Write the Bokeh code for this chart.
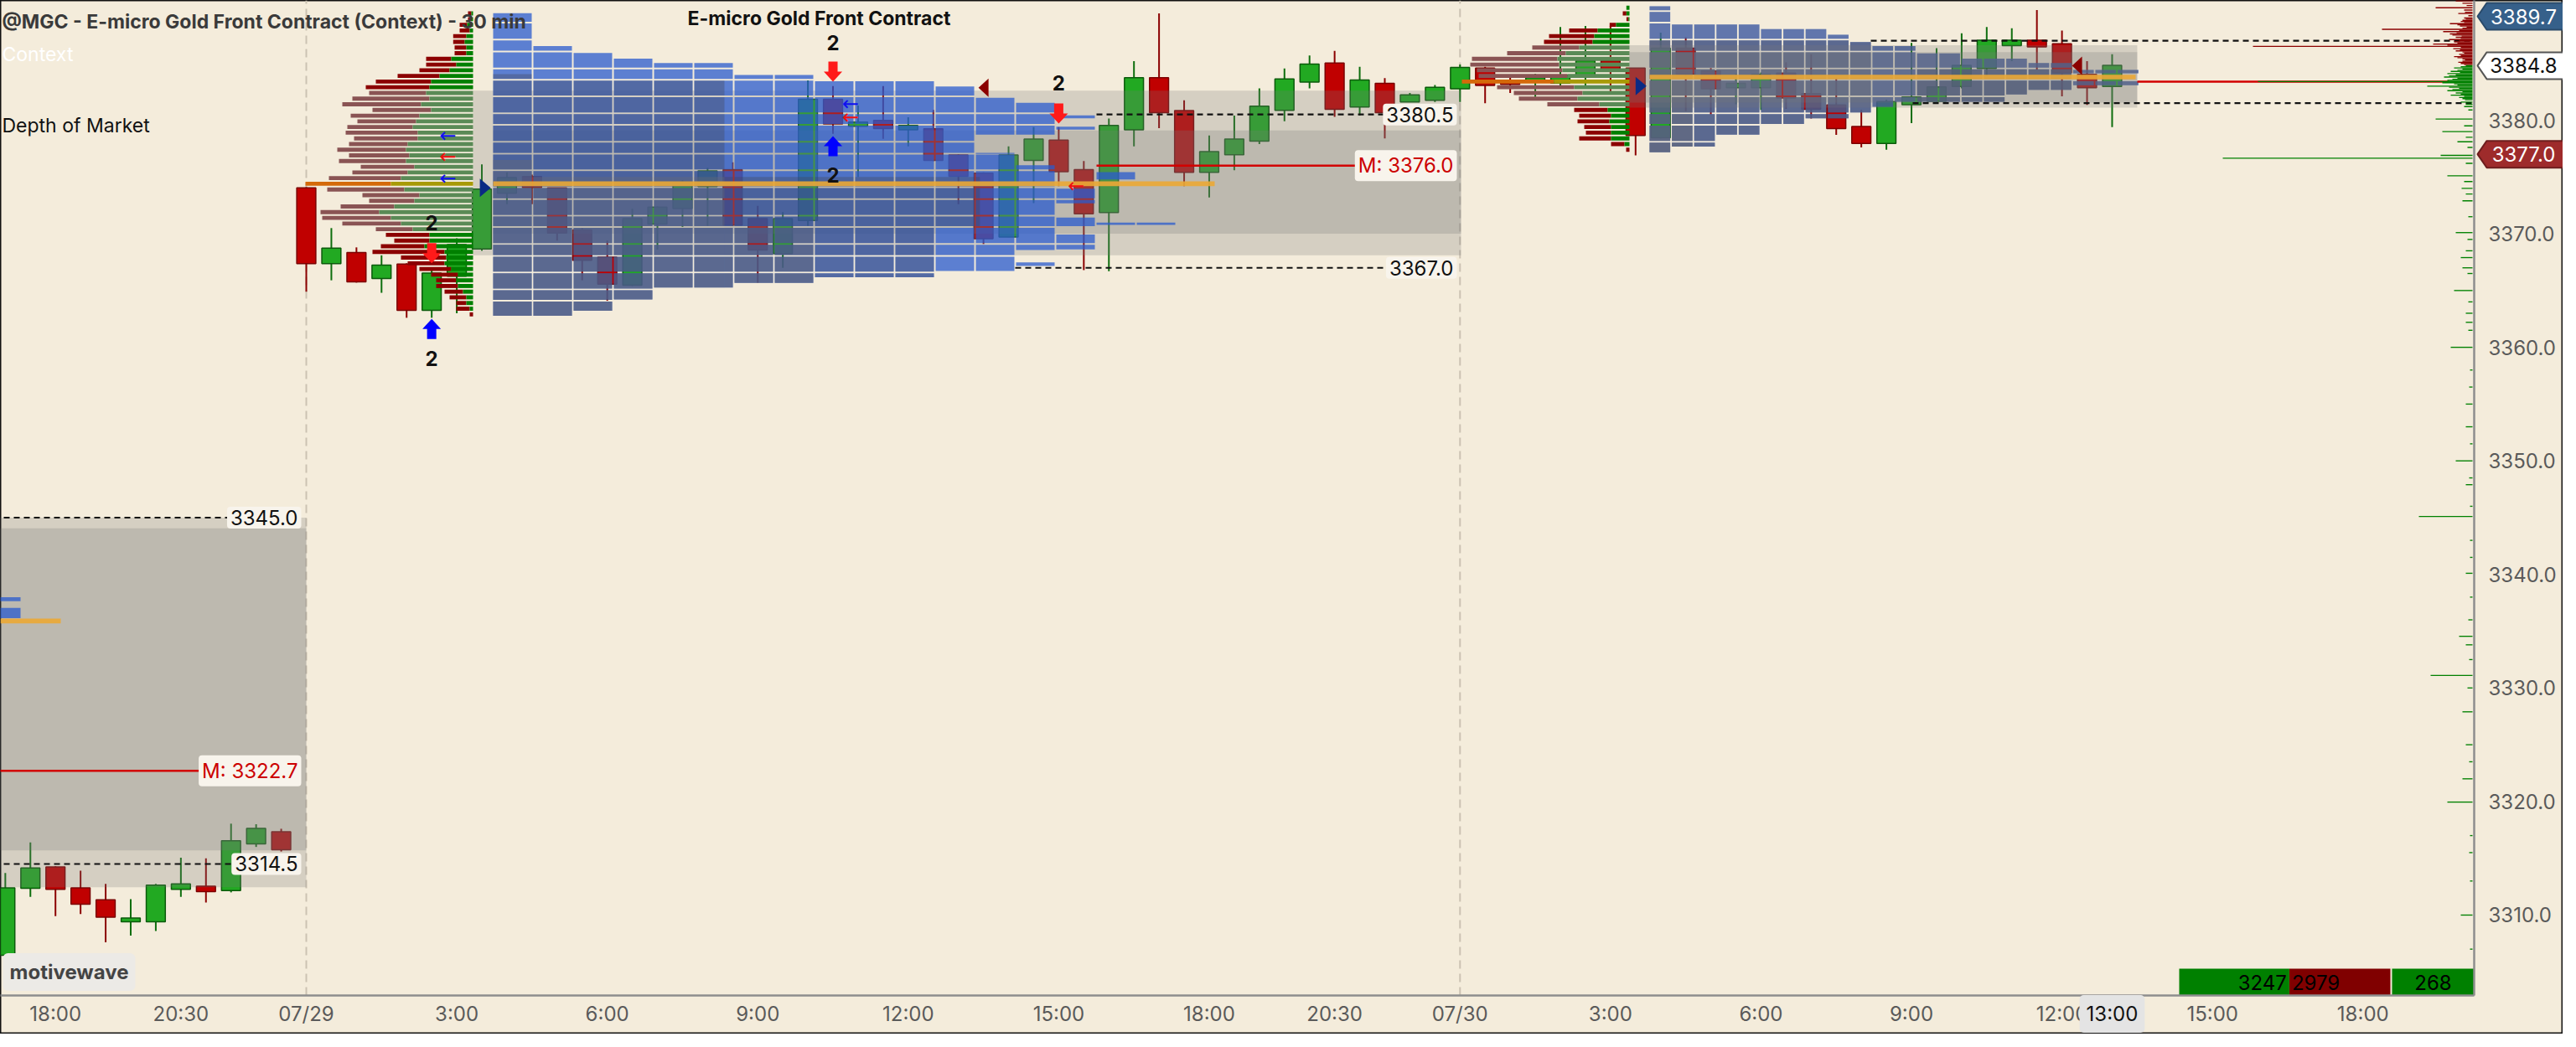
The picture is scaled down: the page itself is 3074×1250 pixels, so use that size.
from bokeh.plotting import figure
from bokeh.models import Range1d, Label
from bokeh.core.properties import value
from bokeh.embed import file_html
from bokeh.resources import INLINE

# ------------------------------------------------------------------ data
# 30-min candles, x = bar index (0 = 07/29 00:00, 46 = 07/30 00:00)
BAR_IDX = list(range(-12, 73))
OPEN = [3306.5, 3312.4, 3314.2, 3312.35, 3311.3, 3309.45, 3309.45, 3312.3, 3312.5, 3312.2, 3316.3, 3317.3,
        3374.0, 3367.4, 3368.3, 3366.1, 3367.3, 3363.3, 3366.3, 3368.7, 3373.6, 3375.0,
        3374.0, 3370.3, 3367.9, 3365.5, 3370.9, 3372.25, 3374.2, 3375.6, 3371.3, 3368.3,
        3371.2, 3381.8, 3379.5, 3379.95, 3379.2, 3379.2, 3376.9, 3375.3, 3369.75, 3376.5,
        3378.2, 3375.6, 3371.9, 3379.2, 3383.7, 3380.8, 3375.45, 3377.0, 3378.2, 3380.9,
        3383.4, 3385.0, 3381.2, 3383.2, 3381.65, 3381.8, 3382.8, 3384.55, 3383.3, 3383.4,
        3383.3, 3384.0, 3385.2, 3384.55, 3378.5, 3386.3, 3384.3, 3382.9, 3382.9, 3384.1,
        3382.3, 3381.3, 3379.4, 3378.0, 3381.4, 3381.7, 3383.0, 3384.6, 3386.6, 3387.0,
        3386.7, 3384.0, 3383.0]
HIGH = [3313.7, 3316.4, 3314.3, 3313.9, 3312.75, 3311.4, 3312.75, 3315.05, 3315.0, 3318.05, 3318.0, 3317.6,
        3374.1, 3370.5, 3368.8, 3368.1, 3367.4, 3366.8, 3369.6, 3376.1, 3375.4, 3375.2,
        3374.0, 3370.5, 3369.4, 3372.2, 3372.4, 3374.7, 3375.8, 3376.3, 3372.45, 3371.9,
        3383.5, 3383.0, 3381.3, 3383.0, 3380.25, 3380.9, 3377.0, 3375.4, 3377.7, 3379.4,
        3379.4, 3376.4, 3380.15, 3385.2, 3389.4, 3381.75, 3378.65, 3380.4, 3382.8, 3384.55,
        3385.7, 3386.1, 3384.7, 3383.7, 3382.4, 3383.1, 3384.9, 3384.7, 3384.0, 3384.1,
        3388.2, 3388.3, 3388.3, 3384.6, 3387.7, 3387.3, 3384.6, 3384.1, 3384.2, 3385.1,
        3385.8, 3383.8, 3380.9, 3381.8, 3386.8, 3386.35, 3387.65, 3388.2, 3388.1, 3389.7,
        3387.9, 3385.2, 3385.8]
LOW = [3305.8, 3311.6, 3309.9, 3310.1, 3307.6, 3308.2, 3308.6, 3311.6, 3311.1, 3312.0, 3316.0, 3315.6,
       3364.9, 3365.9, 3365.7, 3364.8, 3362.6, 3362.6, 3363.0, 3368.5, 3372.6, 3372.6,
       3369.4, 3365.9, 3364.1, 3365.4, 3368.6, 3370.6, 3370.7, 3370.7, 3365.7, 3367.0,
       3370.7, 3378.8, 3375.0, 3378.35, 3377.7, 3376.4, 3372.6, 3369.1, 3369.7, 3372.7,
       3374.2, 3366.8, 3366.7, 3377.7, 3379.3, 3374.2, 3373.2, 3375.6, 3377.9, 3379.9,
       3382.8, 3380.3, 3380.4, 3378.4, 3381.6, 3381.6, 3381.6, 3381.5, 3382.4, 3382.05,
       3382.9, 3382.9, 3382.5, 3376.9, 3378.4, 3380.8, 3380.5, 3381.4, 3380.9, 3381.0,
       3380.15, 3378.7, 3377.6, 3377.4, 3379.75, 3381.6, 3382.8, 3383.9, 3385.2, 3384.45,
       3382.1, 3381.35, 3379.4]
CLOSE = [3312.35, 3314.1, 3312.3, 3311.0, 3309.85, 3309.7, 3312.6, 3312.7, 3312.1, 3316.5, 3317.6, 3315.8,
         3367.4, 3368.7, 3365.8, 3367.2, 3363.3, 3366.5, 3369.0, 3373.9, 3374.9, 3374.1,
         3370.1, 3367.7, 3365.6, 3371.3, 3372.3, 3374.5, 3375.5, 3370.8, 3368.6, 3371.3,
         3381.8, 3379.7, 3379.8, 3379.3, 3379.5, 3376.5, 3375.1, 3369.6, 3376.9, 3378.3,
         3375.5, 3371.8, 3379.5, 3383.7, 3380.7, 3375.45, 3377.2, 3378.3, 3381.2, 3383.6,
         3384.9, 3381.0, 3383.5, 3380.7, 3382.2, 3382.85, 3384.6, 3383.1, 3383.2, 3383.7,
         3383.9, 3385.2, 3384.4, 3378.7, 3386.3, 3384.1, 3382.8, 3383.2, 3384.0, 3382.0,
         3381.0, 3379.3, 3378.0, 3381.6, 3382.0, 3382.9, 3384.8, 3387.0, 3387.0, 3386.5,
         3384.2, 3382.9, 3384.8]

# time axis
XTICKS = [-10, -5, 0, 6, 12, 18, 24, 30, 36, 41, 46, 52, 58, 64, 70, 76, 82]
XLABELS = ["18:00", "20:30", "07/29", "3:00", "6:00", "9:00", "12:00", "15:00", "18:00",
           "20:30", "07/30", "3:00", "6:00", "9:00", "12:00", "15:00", "18:00"]
YTICKS = [3310, 3320, 3330, 3340, 3350, 3360, 3370, 3380]
SESSION_STARTS = [0, 46]
CURRENT_BAR = 72
CURRENT_LABEL = "13:00"

# TPO profile price rows (row boundaries)
ROW_EDGES = [3389.6, 3388.6, 3387.1, 3386.05, 3384.55, 3383.55, 3382.1, 3380.6, 3379.6, 3378.1,
             3377.05, 3375.6, 3374.1, 3373.05, 3371.6, 3370.6, 3369.1, 3368.05, 3366.6, 3365.1, 3364.1]
# 07/29 TPO columns: (column, top, bottom)
TPO29_COL = [0, 1, 2, 3, 4, 5, 6, 7, 8, 9, 10, 11, 12, 12, 13, 13, 13, 14, 14, 14, 14, 14, 15, 15, 16]
TPO29_TOP = [3389.5, 3386.6, 3386.0, 3385.5, 3385.1, 3385.1, 3384.05, 3384.05, 3383.5, 3383.5, 3383.5,
             3383.05, 3382.05, 3377.1, 3381.6, 3376.1, 3367.55, 3380.5, 3379.5, 3374.05, 3371.5, 3370.0,
             3375.5, 3371.05, 3371.05]
TPO29_BOT = [3362.7, 3362.7, 3363.15, 3364.15, 3365.2, 3365.2, 3365.6, 3365.6, 3366.1, 3366.1, 3366.1,
             3366.65, 3378.65, 3366.65, 3378.65, 3368.5, 3367.1, 3380.1, 3379.1, 3372.6, 3370.6, 3368.55,
             3374.7, 3370.7, 3370.7]
# 07/30 TPO columns
TPO30_COL = [0, 1, 2, 3, 4, 5, 6, 7, 8, 9, 10, 11, 12, 13, 14, 15, 16, 17, 18, 19, 19, 20, 20, 21, 21]
TPO30_TOP = [3390.1, 3388.5, 3388.5, 3388.5, 3388.5, 3388.1, 3388.1, 3388.1, 3387.6, 3386.95, 3386.6,
             3386.6, 3385.95, 3385.95, 3385.5, 3385.5, 3385.5, 3385.1, 3385.1, 3384.5, 3383.5, 3384.5,
             3383.5, 3384.5, 3383.5]
TPO30_BOT = [3377.1, 3377.6, 3377.6, 3378.65, 3378.65, 3379.6, 3379.6, 3380.1, 3380.1, 3380.6, 3381.1,
             3381.55, 3381.55, 3381.55, 3381.55, 3381.55, 3382.2, 3382.6, 3382.6, 3384.05, 3383.0, 3384.05,
             3383.0, 3384.05, 3383.0]
# 07/28 TPO remnants (top, bottom)
TPO28_TOP = [3338.0, 3337.05]
TPO28_BOT = [3337.65, 3336.15]
# shading inside the TPO (col_from, col_to, top, bottom): dark layer A, grey layer B
SHADE29_A = [(0, 1.0, 3384.05, 3383.55), (0, 5.75, 3383.55, 3375.0), (0, 12.1, 3375.0, 3370.6),
             (0, 11.0, 3370.6, 3362.6)]
SHADE29_B = [(0, 1.0, 3376.5, 3375.0), (0, 5.75, 3375.0, 3362.6), (5.75, 8.0, 3370.6, 3362.6)]
SHADE30_A = [(0, 22.0, 3387.1, 3377.0), (12.0, 19.0, 3384.55, 3381.5)]
SHADE30_B = [(0, 10.0, 3387.1, 3377.0), (0, 2.0, 3390.2, 3377.0), (2.0, 9.0, 3388.6, 3387.1)]

# session volume-by-price (0.5 pt rows, sell / buy)
VP29_TOP = 3389.4
VP29_SELL = [4, 3, 9, 12, 15.7, 13.7, 14, 14, 30, 36, 36, 50, 66, 76, 68, 92, 94, 70, 82, 70, 78, 86, 76, 70,
             82, 72, 80, 64, 66, 86, 102, 92, 68, 54, 64, 70, 82, 70, 44, 52, 42, 52, 86, 54, 44, 38, 32, 24,
             26, 22, 20, 12, 16, 4]
VP29_BUY = [2, 3, 7, 4, 8, 10, 8, 8, 26, 20, 28, 40, 50, 52, 56, 52, 62, 50, 64, 68, 72, 66, 66, 78,
            80, 76, 80, 70, 78, 86, 98, 82, 64, 70, 94, 112, 98, 86, 72, 52, 52, 58, 34, 32, 34, 26, 18, 20,
            18, 12, 8, 8, 4, 0]
VP29_VA = (14, 38)
VP29_POC = 30
VP30_TOP = 3389.9
VP30_SELL = [0, 4.3, 2.3, 7.7, 34, 54, 58, 56, 70, 102, 106, 102, 106, 110, 92, 82, 70, 62, 40, 38, 38, 32,
             30, 38, 16, 4]
VP30_BUY = [3.7, 3.7, 1.3, 16, 38, 42, 44, 60, 76, 86, 84, 80, 74, 90, 66, 56, 62, 36, 26, 22, 24, 22, 22,
            22, 6, 0]
VP30_VA = (7, 17)
VP30_POC = 13

# value areas (left, right, top, bottom)
VA_UNDER = [(-13.0, 0.0, 3345.0, 3312.45), (-13.0, 0.0, 3344.05, 3315.7),
            (6.65, 46.04, 3382.6, 3368.1), (7.45, 46.04, 3379.1, 3370.0)]
VA_OVER = [(52.75, 73.0, 3386.6, 3381.1), (52.75, 73.0, 3386.0, 3381.55)]

# key levels
POC_LEVELS = [3335.9, 3374.4, 3383.8]
MEDIANS = [3322.7, 3376.0, 3383.4]
DASHED_LEVELS = [3345.0, 3314.5, 3380.5, 3367.0, 3387.0, 3381.5]

# depth of market (price, size)
ASK_P = [3384.9, 3385.0, 3385.1, 3385.2, 3385.3, 3385.4, 3385.5, 3385.6, 3385.7, 3385.8, 3385.9, 3386.0,
         3386.1, 3386.2, 3386.3, 3386.4, 3386.5, 3386.6, 3386.7, 3386.8, 3386.9, 3387.0, 3387.1, 3387.2,
         3387.3, 3387.4, 3387.5, 3387.6, 3387.7, 3387.8, 3387.9, 3388.0, 3388.1, 3388.2, 3388.3, 3388.4,
         3388.5, 3388.6, 3388.7, 3388.8, 3388.9, 3389.0, 3389.2, 3389.4, 3389.5, 3389.7, 3389.9, 3390.1,
         3390.3, 3390.5, 3390.8]
ASK_S = [10, 14, 17, 12, 9, 12, 18, 22, 14, 16, 10, 12, 20, 15, 23, 14, 262, 30, 47, 18, 22, 16, 28, 14,
         20, 13, 24, 27, 19, 35, 16, 108, 12, 7, 15, 18, 27, 10, 14, 12, 8, 10, 5, 17, 9, 10, 44, 7, 12,
         20, 20]
BID_P = [3384.8, 3384.7, 3384.6, 3384.5, 3384.4, 3384.3, 3384.2, 3384.1, 3384.0, 3383.9, 3383.8, 3383.7,
         3383.6, 3383.5, 3383.4, 3383.3, 3383.2, 3383.1, 3383.0, 3382.9, 3382.8, 3382.7, 3382.6, 3382.5,
         3382.4, 3382.3, 3382.2, 3382.1, 3382.0, 3381.9, 3381.8, 3381.6, 3381.4, 3381.2, 3380.9, 3380.1,
         3379.5, 3379.0, 3378.5, 3378.1, 3377.6, 3376.9, 3376.65, 3376.2, 3375.1, 3374.6, 3374.0, 3373.5,
         3372.9, 3371.5, 3370.1, 3369.5, 3368.5, 3367.9, 3367.0, 3366.5, 3365.0, 3364.0, 3363.0, 3362.2,
         3361.5, 3360.0, 3358.0, 3356.5, 3355.0, 3353.0, 3351.5, 3350.0, 3348.5, 3347.9, 3346.0, 3345.1,
         3343.0, 3341.5, 3340.1, 3338.0, 3336.0, 3334.55, 3333.8, 3332.5, 3331.1, 3330.0, 3327.9, 3325.0,
         3323.5, 3322.0, 3319.95, 3317.0, 3315.5, 3313.0, 3310.0, 3307.0, 3304.5]
BID_S = [8, 14, 22, 12, 18, 26, 15, 30, 20, 28, 34, 18, 24, 30, 256, 36, 22, 18, 54, 28, 16, 24, 30, 12,
         20, 14, 26, 10, 16, 12, 9, 14, 8, 10, 5, 44, 10, 36, 8, 18, 6, 38, 298, 8, 30, 10, 13, 8,
         12, 5, 20, 6, 8, 14, 12, 6, 22, 5, 8, 8, 5, 26, 3, 4, 8, 8, 3, 20, 4, 8, 3, 64,
         3, 3, 8, 3, 5, 16, 8, 4, 50, 6, 12, 8, 4, 12, 30, 3, 4, 3, 14, 3, 3]

# signals
ARROW_X = [5, 5, 21, 21, 30]
ARROW_TIP = [3367.4, 3362.5, 3383.4, 3378.6, 3379.7]
ARROW_UP = [False, True, False, True, False]
SIG_X = [5, 5, 21, 21, 30]
SIG_Y = [3371.0, 3359.05, 3386.85, 3375.15, 3383.3]
SIG_TEXT = ["2", "2", "2", "2", "2"]
SMALL_X = [5.65, 5.65, 5.65, 21.7, 21.7, 30.7]
SMALL_Y = [3378.6, 3376.8, 3374.9, 3381.42, 3380.27, 3374.22]
SMALL_C = ["#1010F0", "#F01010", "#1010F0", "#1010F0", "#F01010", "#F01010"]
TRI_LEFT = [(26.8, 3382.85), (70.4, 3384.8)]
TRI_RIGHT = [(6.92, 3374.05), (53.0, 3383.0)]

# order flow totals and price markers
BUY_VOL, SELL_VOL, DELTA = 3247, 2979, 268
LAST_HIGH, LAST_PRICE, LAST_LOW = 3389.7, 3384.8, 3377.0

# ------------------------------------------------------------------ layout helpers
PXB = 29.93    # pixels per bar
PXP = 13.557   # pixels per point


def X(px):
    return (px - 373.0) / PXB


def Y(py):
    return 3380.0 - (py - 151.0) / PXP


BG = "#F4ECDB"
FONT = "Inter"

p = figure(frame_width=3058, frame_height=1234,
           x_range=Range1d(X(8), X(3066)), y_range=Range1d(Y(1242), Y(8)),
           output_backend="svg", toolbar_location=None,
           x_axis_location=None, y_axis_location=None,
           min_border_left=0, min_border_top=0, min_border_right=0, min_border_bottom=0)
p.background_fill_color = BG
p.border_fill_color = BG
p.outline_line_color = "#111111"
p.outline_line_width = 2
p.grid.visible = False

AX_X = X(2960)      # price-axis position
AX_Y = Y(1196)      # time-axis position
yt = Y(8)

# session separators
p.segment(x0=SESSION_STARTS, y0=[AX_Y] * 2, x1=SESSION_STARTS, y1=[yt] * 2,
          line_color="#CBC2B2", line_width=2, line_dash="10 6")

# candles
up = [c >= o for o, c in zip(OPEN, CLOSE)]
wick_c = ["#0E6E0E" if u else "#8B0000" for u in up]
body_c = ["#22A922" if u else "#C00000" for u in up]
edge_c = ["#0B5A0B" if u else "#7A0000" for u in up]
p.segment(x0=BAR_IDX, y0=LOW, x1=BAR_IDX, y1=HIGH, line_color=wick_c, line_width=2)
p.vbar(x=BAR_IDX, width=0.76, top=[max(o, c) + 0.04 for o, c in zip(OPEN, CLOSE)],
       bottom=[min(o, c) - 0.04 for o, c in zip(OPEN, CLOSE)],
       fill_color=body_c, line_color=edge_c, line_width=1.5)

# value-area boxes under the TPO
p.quad(left=[b[0] for b in VA_UNDER], right=[b[1] for b in VA_UNDER],
       top=[b[2] for b in VA_UNDER], bottom=[b[3] for b in VA_UNDER],
       fill_color="#787878", fill_alpha=0.25, line_color=None)


def tpo_quads(left, pitch, cols, tops, bots):
    L, R, T, B = [], [], [], []
    gx = 2.0 / PXB
    gy = 1.0 / PXP
    for c, t, b in zip(cols, tops, bots):
        cuts = [t] + [e for e in ROW_EDGES if b < e < t] + [b]
        for a, z in zip(cuts[:-1], cuts[1:]):
            L.append(left + c * pitch)
            R.append(left + (c + 1) * pitch - gx)
            T.append(a - gy)
            B.append(z + gy)
    return L, R, T, B


def shade_quads(boxes, left, pitch, shades):
    L, R, T, B = [], [], [], []
    for bl, br, bt, bb in zip(*boxes):
        for c0, c1, t, b in shades:
            sl, sr = max(bl, left + c0 * pitch), min(br, left + c1 * pitch)
            st, sb = min(bt, t), max(bb, b)
            if sr > sl and st > sb:
                L.append(sl); R.append(sr); T.append(st); B.append(sb)
    return L, R, T, B


BLUE = "#295BCD"
P29, P30 = 48 / PXB, 26.6 / PXB
box29 = tpo_quads(X(596), P29, TPO29_COL, TPO29_TOP, TPO29_BOT)
box30 = tpo_quads(X(1976), P30, TPO30_COL, TPO30_TOP, TPO30_BOT)
p.quad(left=box29[0] + box30[0] + [X(0)] * 2, right=box29[1] + box30[1] + [X(32)] * 2,
       top=box29[2] + box30[2] + TPO28_TOP, bottom=box29[3] + box30[3] + TPO28_BOT,
       fill_color=BLUE, fill_alpha=0.75, line_color=None)
for sh29, sh30, col, alpha in [(SHADE29_A, SHADE30_A, "#42424E", 0.34),
                               (SHADE29_B, SHADE30_B, "#6A6A70", 0.38)]:
    s29 = shade_quads(box29, X(596), P29, sh29)
    s30 = shade_quads(box30, X(1976), P30, sh30)
    p.quad(left=s29[0] + s30[0], right=s29[1] + s30[1], top=s29[2] + s30[2], bottom=s29[3] + s30[3],
           fill_color=col, fill_alpha=alpha, line_color=None)

# value area of the running session drawn over its TPO
p.quad(left=[b[0] for b in VA_OVER], right=[b[1] for b in VA_OVER],
       top=[b[2] for b in VA_OVER], bottom=[b[3] for b in VA_OVER],
       fill_color="#787878", fill_alpha=0.25, line_color=None)

# POC lines
p.hbar(y=POC_LEVELS, left=[X(0), X(596), X(1976)], right=[X(80), X(1457), X(2556)],
       height=0.42, fill_color="#EBA935", fill_alpha=0.9, line_color=None)


# volume by price histograms
def vp(top, sell, buy, va, poc, anchor):
    ys, l1, r1, c1, l2, r2, c2 = [], [], [], [], [], [], []
    for i, (s, b) in enumerate(zip(sell, buy)):
        ys.append(top - 0.5 * i)
        l1.append(anchor - (s + b) / PXB); r1.append(anchor - b / PXB)
        l2.append(anchor - b / PXB); r2.append(anchor)
        if i == poc:
            c1.append("#D4690A"); c2.append("#A89A06")
        elif va[0] <= i <= va[1]:
            c1.append("#8A5454"); c2.append("#5A8A56")
        else:
            c1.append("#8B0000"); c2.append("#008000")
    p.hbar(y=ys, left=l1, right=r1, height=0.36, fill_color=c1, line_color=None)
    p.hbar(y=ys, left=l2, right=r2, height=0.36, fill_color=c2, line_color=None)


vp(VP29_TOP, VP29_SELL, VP29_BUY, VP29_VA, VP29_POC, X(572))
vp(VP30_TOP, VP30_SELL, VP30_BUY, VP30_VA, VP30_POC, X(1952))

# dashed key levels
p.segment(x0=[X(0), X(0), X(1316), X(1219), X(2240), X(2290)], y0=DASHED_LEVELS,
          x1=[X(282), X(287), X(1663), X(1663), X(2958), X(2958)], y1=DASHED_LEVELS,
          line_color="#111111", line_width=2.2, line_dash="7 5")
# median lines
p.segment(x0=[X(0), X(1316), X(2558)], y0=MEDIANS, x1=[X(251), X(1629), X(2930)], y1=MEDIANS,
          line_color="#D20000", line_width=2.5)

# depth of market
dom_anchor = X(2958)
p.hbar(y=ASK_P, left=[dom_anchor - s / PXB for s in ASK_S], right=dom_anchor, height=0.1,
       fill_color="#8B0000", line_color=None)
p.hbar(y=BID_P, left=[dom_anchor - s / PXB for s in BID_S], right=dom_anchor, height=0.1,
       fill_color="#008000", line_color=None)

# signal arrows
axs, ays, acs = [], [], []
shape = [(0, 0), (11, 12), (5.5, 12), (5.5, 24), (-5.5, 24), (-5.5, 12), (-11, 12)]
for x, tip, u in zip(ARROW_X, ARROW_TIP, ARROW_UP):
    sgn = -1 if u else 1
    axs.append([x + dx / PXB for dx, _ in shape])
    ays.append([tip + sgn * dy / PXP for _, dy in shape])
    acs.append("#0000FF" if u else "#FF1A1A")
p.patches(xs=axs, ys=ays, fill_color=acs, line_color=None)
p.text(x=SIG_X, y=SIG_Y, text=SIG_TEXT, text_font=value(FONT), text_font_style="bold",
       text_font_size=value("24px"), text_align="center", text_baseline="middle", text_color="#111111")
p.text(x=SMALL_X, y=SMALL_Y, text=["\u2190"] * len(SMALL_X), text_font=value("DejaVu Sans"),
       text_font_size=value("24px"), text_align="center", text_baseline="middle", text_color=SMALL_C)

# triangles
p.patches(xs=[[x, x + 12 / PXB, x + 12 / PXB] for x, _ in TRI_LEFT],
          ys=[[y, y + 11 / PXP, y - 11 / PXP] for _, y in TRI_LEFT],
          fill_color="#8B0000", line_color=None)
p.patches(xs=[[x, x, x + 13 / PXB] for x, _ in TRI_RIGHT],
          ys=[[y + 11 / PXP, y - 11 / PXP, y] for _, y in TRI_RIGHT],
          fill_color="#0A2A84", line_color=None)

# order flow boxes
tot = BUY_VOL + SELL_VOL
x0 = X(2608)
xb = x0 + 252 / PXB * BUY_VOL / tot
xs_ = x0 + 252 / PXB
p.quad(left=[x0, xb, X(2862)], right=[xb, xs_, AX_X], top=[Y(1164)] * 3, bottom=[AX_Y] * 3,
       fill_color=["#008000", "#800000", "#008000"], line_color=None)
p.text(x=[xb - 3 / PXB, xb + 3 / PXB, (X(2862) + AX_X) / 2], y=[Y(1180)] * 3,
       text=[str(BUY_VOL), str(SELL_VOL), str(DELTA)],
       text_align=["right", "left", "center"], text_baseline="middle",
       text_font=value(FONT), text_font_size=value("24px"), text_color="#000000")

# ------------------------------------------------------------------ axes (time below, price right)
p.segment(x0=[X(0), AX_X], y0=[AX_Y, AX_Y], x1=[AX_X, AX_X], y1=[AX_Y, Y(-5)],
          line_color="#8E8E8E", line_width=2.5)
p.text(x=XTICKS, y=[Y(1218)] * len(XTICKS), text=XLABELS, text_font=value(FONT),
       text_font_size=value("24px"), text_color="#5A5A5A", text_align="center", text_baseline="middle")
p.text(x=[X(2977)] * len(YTICKS), y=YTICKS, text=[f"{t:.1f}" for t in YTICKS], text_font=value(FONT),
       text_font_size=value("24px"), text_color="#5A5A5A", text_align="left", text_baseline="middle")
p.add_layout(Label(x=CURRENT_BAR, y=Y(1218), text=CURRENT_LABEL, text_font=FONT, text_font_size="24px",
                   text_color="#111111", text_align="center", text_baseline="middle",
                   background_fill_color="#E4E4E4", background_fill_alpha=1.0, padding=8, border_radius=5))

# price tags on the price axis (kept inside the page at the top edge)
tags = [(LAST_HIGH, "#36608A", "#FFFFFF", "#2A4A6A"),
        (LAST_PRICE, "#FFFFFF", "#111111", "#555555"),
        (LAST_LOW, "#9E2B2B", "#FFFFFF", "#6E1E1E")]
tag_y = [min(t[0], Y(27)) for t in tags]
h = 16 / PXP
p.patches(xs=[[X(2964), X(2975), X(3080), X(3080), X(2975)] for _ in tags],
          ys=[[yc, yc + h, yc + h, yc - h, yc - h] for yc in tag_y],
          fill_color=[t[1] for t in tags], line_color=[t[3] for t in tags], line_width=2)
p.text(x=[X(3019)] * 3, y=tag_y, text=[f"{t[0]:.1f}" for t in tags],
       text_font=value(FONT), text_font_size=value("24px"), text_color=[t[2] for t in tags],
       text_align="center", text_baseline="middle")


# ------------------------------------------------------------------ labels
def box_label(txt, y, right_px, color="#111111", bg="#F8F4EC"):
    p.add_layout(Label(x=X(right_px - 6), y=y, text=txt, text_align="right", text_baseline="middle",
                       text_font=FONT, text_font_size="24px", text_color=color,
                       background_fill_color=bg, background_fill_alpha=1.0,
                       padding=4, border_radius=4))


box_label("3345.0", 3345.0, 373)
box_label("3314.5", 3314.5, 373)
box_label("M: 3322.7", 3322.7, 373, color="#CC0000")
box_label("3380.5", 3380.5, 1752)
box_label("3367.0", 3367.0, 1752)
box_label("M: 3376.0", 3376.0, 1752, color="#CC0000")

p.add_layout(Label(x=X(10), y=Y(33), text="@MGC - E-micro Gold Front Contract (Context) - 30 min",
                   text_font=FONT, text_font_style="bold", text_font_size="23px", text_color="#3A3A3A",
                   text_baseline="middle"))
p.add_layout(Label(x=X(10), y=Y(72), text="Context", text_font=FONT, text_font_size="23px",
                   text_color="#FFFFFF", text_baseline="middle"))
p.add_layout(Label(x=X(10), y=Y(157), text="Depth of Market", text_font=FONT, text_font_size="23px",
                   text_color="#111111", text_baseline="middle"))
p.add_layout(Label(x=X(985), y=Y(29), text="E-micro Gold Front Contract", text_font=FONT,
                   text_font_style="bold", text_font_size="23px", text_color="#111111",
                   text_align="center", text_baseline="middle"))
p.add_layout(Label(x=X(90), y=Y(1168), text="motivewave", text_font=FONT, text_font_style="bold",
                   text_font_size="24px", text_color="#444444", text_align="center", text_baseline="middle",
                   background_fill_color="#ECEAE6", background_fill_alpha=1.0, padding=8, border_radius=6))

open("out.html", "w").write(file_html(p, INLINE))
